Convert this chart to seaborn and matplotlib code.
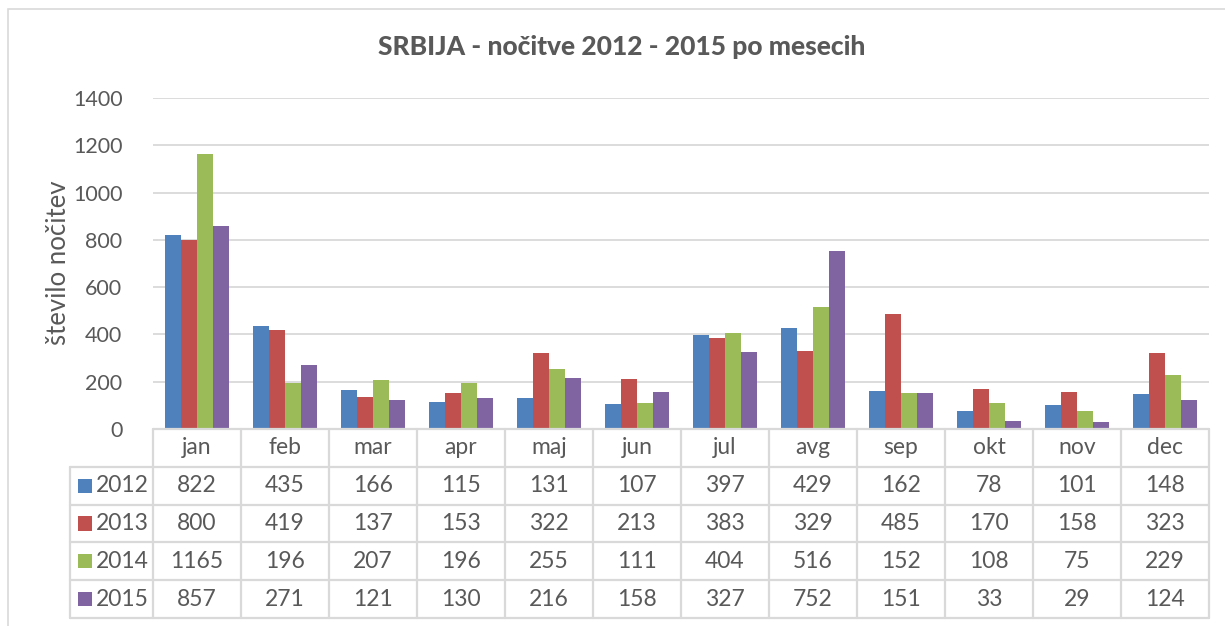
import matplotlib
matplotlib.use("Agg")
import matplotlib.pyplot as plt
from matplotlib.patches import Rectangle
import seaborn as sns
import pandas as pd

months = ["jan", "feb", "mar", "apr", "maj", "jun", "jul", "avg", "sep", "okt", "nov", "dec"]
years = ["2012", "2013", "2014", "2015"]
v2012 = [822, 435, 166, 115, 131, 107, 397, 429, 162, 78, 101, 148]
v2013 = [800, 419, 137, 153, 322, 213, 383, 329, 485, 170, 158, 323]
v2014 = [1165, 196, 207, 196, 255, 111, 404, 516, 152, 108, 75, 229]
v2015 = [857, 271, 121, 130, 216, 158, 327, 752, 151, 33, 29, 124]
series = [v2012, v2013, v2014, v2015]
colors = ["#4F81BD", "#C0504D", "#9BBB59", "#8064A2"]
title = "SRBIJA - nočitve 2012 - 2015 po mesecih"
ylabel = "število nočitev"
yticks = [0, 200, 400, 600, 800, 1000, 1200, 1400]

rows = []
for y, vals in zip(years, series):
    for m, v in zip(months, vals):
        rows.append({"mesec": m, "leto": y, "nocitve": v})
df = pd.DataFrame(rows)

sns.set_theme(style="white")
plt.rcParams["font.family"] = ["Lato", "DejaVu Sans"]
txt = "#595959"
grid = "#D9D9D9"

W, H = 1225, 626
fig = plt.figure(figsize=(W / 100, H / 100), dpi=100)
fig.patch.set_facecolor("white")

# outer chart border
fig.add_artist(Rectangle((8 / W, -0.05), 1.1, 1 - 9 / H + 0.05, transform=fig.transFigure,
                         fill=False, edgecolor=grid, lw=1.2))

left, right = 153 / W, 1209 / W
ax = fig.add_axes([left, 1 - 429 / H, right - left, (429 - 98) / H])
sns.barplot(data=df, x="mesec", y="nocitve", hue="leto", order=months, hue_order=years,
            palette=colors, width=0.73, saturation=1, ax=ax, legend=False, linewidth=0)
ax.set_xlim(-0.5, len(months) - 0.5)
ax.set_ylim(0, 1400)
ax.set_yticks(yticks)
ax.set_yticklabels([str(t) for t in yticks], fontsize=15.5, color=txt)
ax.tick_params(axis="y", length=0, pad=22)
ax.set_xticks([])
ax.set_xlabel("")
ax.set_ylabel("")
ax.yaxis.grid(True, color=grid, lw=1.3)
ax.set_axisbelow(True)
for s in ax.spines.values():
    s.set_visible(False)
fig.text(58 / W, 1 - 263 / H, ylabel, rotation=90, ha="center", va="center",
         fontsize=18.5, color=txt)
fig.text(622 / W, 1 - 47 / H, title, ha="center", va="center", fontsize=19,
         fontweight="black", color=txt)

# data table
tax = fig.add_axes([left, 1 - 618 / H, right - left, (618 - 429) / H])
tax.set_xlim(-0.5, len(months) - 0.5)
tax.set_ylim(5, 0)
tax.axis("off")
colw = (right - left) * W / len(months)
x_left = -0.5 - (153 - 70) / colw
lc = dict(color=grid, lw=1.6, clip_on=False)
tax.plot([-0.5, len(months) - 0.5], [0, 0], **lc)
for r in range(1, 6):
    tax.plot([x_left, len(months) - 0.5], [r, r], **lc)
for c in range(len(months) + 1):
    tax.plot([c - 0.5, c - 0.5], [0, 5], **lc)
tax.plot([x_left, x_left], [1, 5], **lc)
fs = 16.5
for i, m in enumerate(months):
    tax.text(i, 0.5, m, ha="center", va="center", fontsize=fs, color=txt)
key_w = 14 / colw
for r, (y, vals, col) in enumerate(zip(years, series, colors)):
    yc = r + 1.5
    tax.add_patch(Rectangle((x_left + 8 / colw, yc - 0.19), key_w, 0.38, color=col,
                            clip_on=False, lw=0))
    tax.text(x_left + 26 / colw, yc, y, ha="left", va="center", fontsize=fs, color=txt)
    for i, v in enumerate(vals):
        tax.text(i, yc, str(v), ha="center", va="center", fontsize=fs, color=txt)

fig.savefig("out.png", dpi=100, facecolor="white")
